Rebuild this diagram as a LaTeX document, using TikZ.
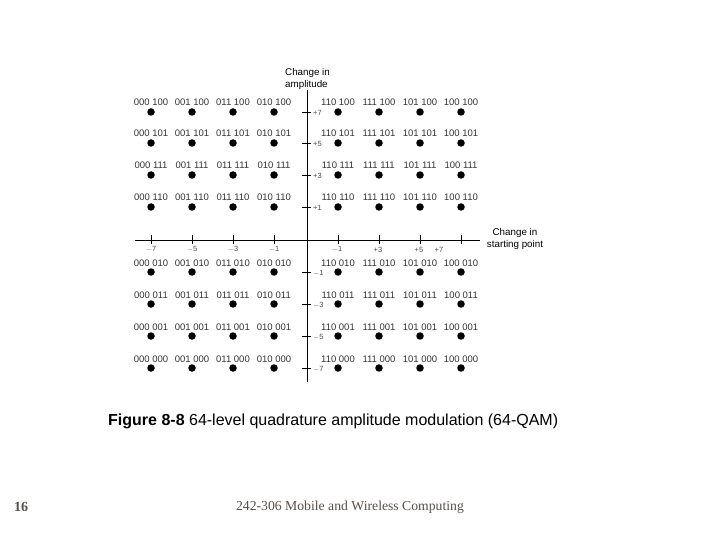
\documentclass[tikz,border=0pt]{standalone}
\usepackage{fontspec}
\setmainfont{Liberation Sans}
\newfontfamily\serifft{Liberation Serif}
\begin{document}
\begin{tikzpicture}[x=1pt,y=-1pt,
  dot/.style={circle,fill=black,inner sep=0pt,minimum size=7.5pt},
  code/.style={font=\fontsize{9.5}{10}\selectfont,text=black!80,inner sep=0pt},
  ticklab/.style={font=\fontsize{7.5}{8}\selectfont,text=black!70,inner sep=0pt},
  axis/.style={line width=1pt,black},
  tick/.style={line width=0.8pt,black},
  axtitle/.style={font=\fontsize{9.8}{11.5}\selectfont,align=left,inner sep=0pt}]
\useasboundingbox (0,0) rectangle (720,540);
% axes
\coordinate (vt) at (307,90);
\coordinate (vb) at (307,382);
\coordinate (hl) at (135,240);
\coordinate (hr) at (480,240);
\draw[axis] (vt) -- (vb);
\draw[line width=0.8pt] (hl) -- (hr);
% constellation
\foreach \cx/\cc [count=\i from 0] in {151/000,192/001,233/011,274/010,338/110,379/111,420/101,461/100}{
  \foreach \ry/\rc [count=\j from 0] in {112/100,143/101,175/111,207/110,272/010,304/011,336/001,368/000}{
    \node[dot] (d\i\j) at (\cx,\ry) {};
    \node[code,anchor=base] (l\i\j) at (\cx,\ry-6) {\cc\ \rc};
  }
}
% vertical ticks
\foreach \ry/\t [count=\j] in {112/+7,143/+5,175/+3,207/+1,272/$-$1,304/$-$3,336/$-$5,368/$-$7}{
  \coordinate (vtl\j) at (302,\ry);
  \coordinate (vtr\j) at (311,\ry);
  \draw[tick] (vtl\j) -- (vtr\j);
  \node[ticklab,anchor=west] (vl\j) at (313,\ry+1) {\t};
}
% horizontal ticks
\foreach \cx [count=\i] in {151,192,233,274,338,379,420,461}{
  \coordinate (htt\i) at (\cx,235);
  \coordinate (htb\i) at (\cx,244);
  \draw[tick] (htt\i) -- (htb\i);
}
\foreach \cx/\t [count=\i] in {151/$-$7,192/$-$5,233/$-$3,274/$-$1,337/$-$1,378/+3,419/+5,439/+7}{
  \node[ticklab] (hl\i) at (\cx,249.5) {\t};
}
% axis titles
\node[axtitle,anchor=north west] (ta) at (285,68.5) {Change in\\amplitude};
\node[axtitle,align=center] (ts) at (515,239) {Change in\\starting point};
% caption
\node[font=\fontsize{16}{18}\selectfont,inner sep=0pt,anchor=west] (cap) at (108,421) {\textbf{Figure 8-8} 64-level quadrature amplitude modulation (64-QAM)};
% footer
\node[font=\serifft\bfseries\fontsize{14}{16}\selectfont,text={rgb,255:red,90;green,78;blue,72},inner sep=0pt] (pg) at (21,507) {16};
\node[font=\serifft\fontsize{13.7}{16}\selectfont,text={rgb,255:red,90;green,78;blue,72},inner sep=0pt] (ft) at (350,507) {242-306 Mobile and Wireless Computing};
\end{tikzpicture}
\end{document}
